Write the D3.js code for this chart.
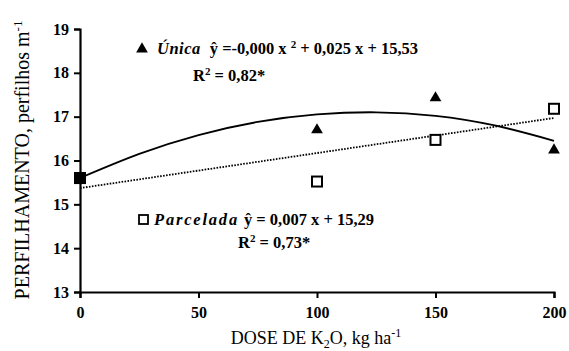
<!DOCTYPE html>
<html>
<head>
<meta charset="utf-8">
<script src="https://cdn.jsdelivr.net/npm/d3@7/dist/d3.min.js"></script>
<style>
body { margin: 0; background: #fff; }
</style>
</head>
<body>
<svg id="chart" width="569" height="351"></svg>
<script>
// doses (kg/ha) and observed tillering
var doses = [0, 100, 150, 200];
var unica = [15.6, 16.72, 17.45, 16.26];
var parcelada = [15.6, 15.52, 16.47, 17.18];

// fitted curves
var unicaFitX = [0, 25, 50, 75, 100, 125, 150, 175, 200];
var unicaFitY = [15.6, 16.15, 16.58, 16.88, 17.05, 17.1, 17.02, 16.8, 16.45];
var parcFitX = [0, 200];
var parcFitY = [15.37, 16.97];

var xTicks = [0, 50, 100, 150, 200];
var yTicks = [13, 14, 15, 16, 17, 18, 19];

var serif = "Liberation Serif, DejaVu Serif, serif";
var svg = d3.select("#chart").style("font-family", serif);
var x = d3.scaleLinear().domain([0, 200]).range([80, 554]);
var y = d3.scaleLinear().domain([13, 19]).range([292, 29]);

var xAxis = svg.append("g").attr("transform", "translate(0,292)")
  .call(d3.axisBottom(x).tickValues(xTicks).tickFormat(d3.format("d")).tickSize(6).tickPadding(9));
var yAxis = svg.append("g").attr("transform", "translate(80,0)")
  .call(d3.axisLeft(y).tickValues(yTicks).tickFormat(d3.format("d")).tickSize(6).tickPadding(5));
[xAxis, yAxis].forEach(function(a) {
  a.attr("font-family", serif).attr("font-size", 16).attr("font-weight", "bold");
  a.select(".domain").attr("stroke", "#000").attr("stroke-width", 2.2);
  a.selectAll(".tick line").attr("stroke", "#000").attr("stroke-width", 2);
  a.selectAll(".tick text").attr("fill", "#000");
});

var line = d3.line().x(function(d) { return x(d[0]); }).y(function(d) { return y(d[1]); });

svg.append("path")
  .attr("d", line.curve(d3.curveNatural)(d3.zip(unicaFitX, unicaFitY)))
  .attr("fill", "none").attr("stroke", "#000").attr("stroke-width", 1.8);
svg.append("path")
  .attr("d", line.curve(d3.curveLinear)(d3.zip(parcFitX, parcFitY)))
  .attr("fill", "none").attr("stroke", "#000").attr("stroke-width", 1.8)
  .attr("stroke-dasharray", "1.6,1.4");

var tri = d3.symbol().type(d3.symbolTriangle).size(60);
svg.selectAll(".sq").data(d3.zip(doses, parcelada)).enter().append("rect")
  .attr("x", function(d) { return x(d[0]) - 5; })
  .attr("y", function(d) { return y(d[1]) - 5; })
  .attr("width", 10).attr("height", 10)
  .attr("fill", "#fff").attr("stroke", "#000").attr("stroke-width", 2);
svg.selectAll(".tri").data(d3.zip(doses, unica)).enter().append("path")
  .attr("d", tri)
  .attr("transform", function(d) { return "translate(" + x(d[0]) + "," + (y(d[1]) + 1) + ")"; })
  .attr("fill", "#000");
// filled overlap at dose 0
svg.append("rect").attr("x", x(0) - 6).attr("y", y(unica[0]) - 6)
  .attr("width", 12).attr("height", 12).attr("fill", "#000");

function eqText(xp, yp) {
  return svg.append("text").attr("x", xp).attr("y", yp)
    .attr("font-family", serif).attr("font-size", 16.5).attr("font-weight", "bold");
}

// equation labels
svg.append("path").attr("d", tri).attr("transform", "translate(142,49)").attr("fill", "#000");
var t1 = eqText(157, 54);
t1.append("tspan").attr("font-style", "italic").attr("letter-spacing", 0.5).text("Única");
t1.append("tspan").attr("dx", 9).text("ŷ =-0,000 x ");
t1.append("tspan").attr("dy", -6).attr("font-size", 11).text("2");
t1.append("tspan").attr("dy", 6).text(" + 0,025 x + 15,53");
var r1 = eqText(193, 81);
r1.append("tspan").text("R");
r1.append("tspan").attr("dy", -6).attr("font-size", 11).text("2");
r1.append("tspan").attr("dy", 6).text(" = 0,82*");

svg.append("rect").attr("x", 139).attr("y", 215).attr("width", 9).attr("height", 9)
  .attr("fill", "#fff").attr("stroke", "#000").attr("stroke-width", 1.8);
var t2 = eqText(154, 225);
t2.append("tspan").attr("font-style", "italic").attr("letter-spacing", 1.8).text("Parcelada");
t2.append("tspan").attr("dx", 5).text("ŷ = 0,007 x + 15,29");
var r2 = eqText(238, 248);
r2.append("tspan").text("R");
r2.append("tspan").attr("dy", -6).attr("font-size", 11).text("2");
r2.append("tspan").attr("dy", 6).text(" = 0,73*");

// axis titles
var xt = svg.append("text").attr("x", 316).attr("y", 344).attr("text-anchor", "middle")
  .attr("font-family", serif).attr("font-size", 18);
xt.append("tspan").text("DOSE DE K");
xt.append("tspan").attr("dy", 4).attr("font-size", 12).text("2");
xt.append("tspan").attr("dy", -4).text("O, kg ha");
xt.append("tspan").attr("dy", -7).attr("font-size", 12).text("-1");

var yt = svg.append("text").attr("text-anchor", "middle")
  .attr("font-family", serif).attr("font-size", 20)
  .attr("transform", "translate(29,160) rotate(-90)");
yt.append("tspan").text("PERFILHAMENTO, perfilhos m");
yt.append("tspan").attr("dy", -7).attr("font-size", 13).text("-1");
</script>
</body>
</html>
